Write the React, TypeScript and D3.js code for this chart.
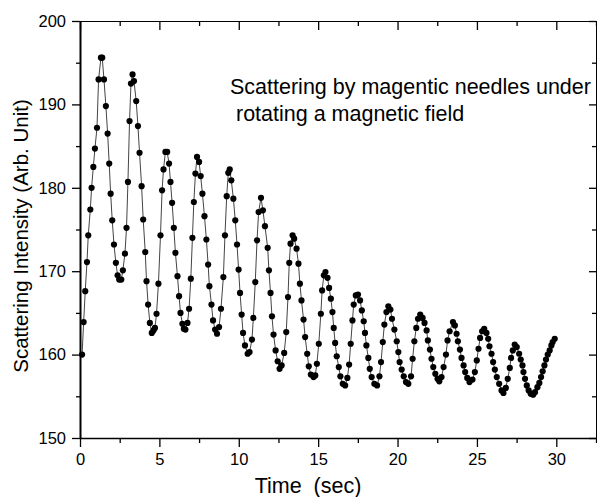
import React, { useEffect, useRef } from "react";
import * as d3 from "d3";

// time (sec) of each sample
const times = [
  0.13, 0.23, 0.33, 0.44, 0.52, 0.65, 0.73, 0.84, 0.94, 1.07, 1.17, 1.32, 1.4, 1.51, 1.63, 1.74, 1.84, 1.93,
  2.03, 2.14, 2.26, 2.37, 2.47, 2.6, 2.7, 2.83, 2.93, 3.02, 3.12, 3.21, 3.31, 3.4, 3.54, 3.65, 3.75, 3.88,
  3.98, 4.11, 4.19, 4.29, 4.4, 4.52, 4.63, 4.72, 4.82, 4.94, 5.07, 5.17, 5.26, 5.38, 5.49, 5.61, 5.7, 5.8,
  5.91, 6.01, 6.14, 6.24, 6.33, 6.45, 6.54, 6.64, 6.77, 6.87, 6.98, 7.08, 7.17, 7.27, 7.37, 7.5, 7.6, 7.71,
  7.84, 7.96, 8.07, 8.15, 8.28, 8.38, 8.51, 8.63, 8.76, 8.88, 9.03, 9.13, 9.24, 9.34, 9.43, 9.53, 9.66, 9.78,
  9.89, 9.99, 10.08, 10.18, 10.27, 10.39, 10.56, 10.68, 10.83, 10.92, 11.04, 11.15, 11.25, 11.4, 11.52, 11.65,
  11.82, 11.9, 12.0, 12.09, 12.19, 12.32, 12.45, 12.57, 12.7, 12.86, 12.99, 13.1, 13.18, 13.26, 13.39, 13.49,
  13.64, 13.76, 13.85, 13.95, 14.08, 14.18, 14.31, 14.41, 14.54, 14.71, 14.82, 14.92, 15.04, 15.17, 15.25,
  15.36, 15.46, 15.59, 15.69, 15.8, 15.9, 15.98, 16.07, 16.17, 16.3, 16.4, 16.55, 16.7, 16.84, 16.95, 17.05,
  17.16, 17.24, 17.37, 17.51, 17.64, 17.75, 17.87, 17.95, 18.04, 18.16, 18.25, 18.37, 18.54, 18.71, 18.86,
  18.96, 19.07, 19.17, 19.3, 19.42, 19.55, 19.65, 19.8, 19.95, 20.05, 20.13, 20.26, 20.39, 20.53, 20.68,
  20.85, 20.95, 21.06, 21.18, 21.29, 21.43, 21.58, 21.7, 21.83, 21.91, 22.04, 22.14, 22.25, 22.38, 22.52,
  22.63, 22.77, 22.9, 23.05, 23.15, 23.28, 23.49, 23.61, 23.72, 23.8, 23.93, 24.03, 24.16, 24.26, 24.39,
  24.53, 24.72, 24.87, 24.99, 25.1, 25.2, 25.33, 25.46, 25.6, 25.71, 25.79, 25.92, 26.02, 26.13, 26.25, 26.4,
  26.55, 26.67, 26.82, 26.94, 27.07, 27.15, 27.26, 27.38, 27.51, 27.66, 27.76, 27.87, 27.93, 28.03, 28.14,
  28.26, 28.39, 28.54, 28.66, 28.81, 28.93, 29.04, 29.14, 29.25, 29.35, 29.46, 29.58, 29.69, 29.77, 29.9,
];

// scattering intensity (arb. unit)
const intensity = [
  160.0, 163.9, 167.6, 171.1, 174.3, 177.4, 180.0, 182.5, 184.7, 187.2, 193.0, 195.6, 195.6, 193.0, 189.8, 186.5, 182.9, 179.3,
  176.1, 173.2, 171.0, 169.5, 169.0, 169.0, 170.1, 172.1, 175.2, 180.7, 188.0, 192.5, 193.6, 192.8, 190.4, 187.4, 184.2, 180.2,
  176.2, 172.3, 168.8, 166.0, 163.8, 162.6, 162.9, 163.2, 164.9, 168.5, 174.3, 179.7, 182.2, 184.3, 184.3, 182.9, 180.7, 178.2,
  175.2, 172.2, 169.4, 167.0, 165.0, 163.7, 163.1, 163.0, 163.8, 165.5, 169.1, 174.0, 178.3, 181.7, 183.7, 183.1, 181.4, 179.3,
  176.6, 173.8, 170.8, 168.2, 166.0, 164.1, 163.0, 162.5, 163.3, 165.5, 169.3, 174.3, 179.0, 181.8, 182.2, 180.9, 178.7, 176.1,
  173.2, 170.2, 167.4, 164.8, 162.6, 161.1, 160.1, 160.3, 161.8, 164.4, 168.7, 173.7, 177.1, 178.8, 177.3, 175.4,
  172.8, 170.1, 167.4, 164.6, 162.4, 160.5, 159.2, 158.3, 158.7, 160.2, 162.7, 166.9, 171.0, 173.3, 174.3, 173.9,
  172.7, 170.9, 168.5, 166.5, 164.2, 162.1, 160.1, 158.6, 157.6, 157.3, 157.5, 158.9, 161.3, 164.9, 167.7,
  169.5, 169.9, 169.2, 168.0, 166.7, 165.1, 163.2, 161.4, 159.8, 158.5, 157.4, 156.5, 156.3, 157.2, 158.8, 161.3,
  164.1, 166.0, 167.1, 167.2, 166.5, 165.3, 164.0, 162.6, 161.1, 159.6, 158.3, 157.3, 156.5, 156.3, 157.4,
  159.1, 161.5, 163.6, 165.1, 165.8, 165.4, 164.3, 163.0, 161.6, 160.3, 159.1, 158.2, 157.4, 156.7, 156.5,
  157.4, 159.5, 161.6, 163.2, 164.3, 164.8, 164.4, 163.8, 162.9, 161.7, 160.6, 159.5, 158.5, 157.7, 157.1,
  156.8, 157.3, 158.5, 160.0, 161.7, 162.8, 163.9, 163.5, 162.5, 161.6, 160.6, 159.6, 158.7, 157.9, 157.2,
  156.7, 157.0, 157.9, 159.3, 160.7, 162.0, 162.8, 163.1, 162.6, 161.9, 161.0, 160.1, 159.1, 158.2, 157.3, 156.5,
  155.7, 155.4, 156.0, 157.1, 158.4, 159.6, 160.5, 161.2, 160.9, 160.1, 159.4, 158.7, 157.9, 157.1, 156.3,
  155.7, 155.3, 155.2, 155.5, 156.1, 156.6, 157.3, 158.0, 158.7, 159.4, 160.0, 160.5, 161.1, 161.5, 161.9,
];

const xMajor = [0, 5, 10, 15, 20, 25, 30];
const xMinor = [2.5, 7.5, 12.5, 17.5, 22.5, 27.5, 32.5];
const yMajor = [150, 160, 170, 180, 190, 200];
const yMinor = [155, 165, 175, 185, 195];

const noteLines = ["Scattering by magentic needles under", " rotating a magnetic field"];

const FONT = "Arial, 'Liberation Sans', sans-serif";

const App = () => {
  const svgRef = useRef(null);

  useEffect(() => {
    const W = 597;
    const H = 497;
    const left = 80, right = 596, top = 21, bottom = 438;

    const svg = d3.select(svgRef.current).attr("width", W).attr("height", H);
    svg.selectAll("*").remove();

    svg.append("rect").attr("width", W).attr("height", H).attr("fill", "white");

    const x = d3.scaleLinear().domain([0, 32.5]).range([left, right]);
    const y = d3.scaleLinear().domain([150, 200]).range([bottom, top]);

    const data = times.map((t, i) => ({ t, v: intensity[i] }));

    // frame: top and right (inward ticks)
    const topAxis = svg.append("g").attr("transform", `translate(0,${top})`);
    topAxis.call(d3.axisBottom(x).tickValues(xMajor).tickSize(9).tickFormat(() => "").tickSizeOuter(0));
    topAxis.append("g").call(d3.axisBottom(x).tickValues(xMinor).tickSize(5).tickFormat(() => "").tickSizeOuter(0));

    const rightAxis = svg.append("g").attr("transform", `translate(${right},0)`);
    rightAxis.call(d3.axisLeft(y).tickValues(yMajor).tickSize(7).tickFormat(() => "").tickSizeOuter(0));
    rightAxis.append("g").call(d3.axisLeft(y).tickValues(yMinor).tickSize(4).tickFormat(() => "").tickSizeOuter(0));

    // bottom axis
    const bottomAxis = svg.append("g").attr("transform", `translate(0,${bottom})`);
    bottomAxis.call(d3.axisBottom(x).tickValues(xMajor).tickSize(9).tickPadding(6).tickSizeOuter(0));
    bottomAxis.append("g").call(d3.axisBottom(x).tickValues(xMinor).tickSize(5).tickFormat(() => "").tickSizeOuter(0));
    bottomAxis.select(".domain").attr("stroke-width", 1.6);

    // left axis
    const leftAxis = svg.append("g").attr("transform", `translate(${left},0)`);
    leftAxis.call(d3.axisLeft(y).tickValues(yMajor).tickSize(8).tickPadding(6).tickSizeOuter(0));
    leftAxis.append("g").call(d3.axisLeft(y).tickValues(yMinor).tickSize(4).tickFormat(() => "").tickSizeOuter(0));
    leftAxis.select(".domain").attr("stroke-width", 2);

    svg.selectAll(".tick line").attr("stroke", "black").attr("stroke-width", 1.3);
    svg.selectAll(".domain").attr("stroke", "black");
    svg.selectAll(".tick text")
      .attr("fill", "black")
      .attr("font-family", FONT)
      .attr("font-size", "16.5px");

    // data
    const line = d3.line().x(d => x(d.t)).y(d => y(d.v));

    svg.append("path")
      .datum(data)
      .attr("fill", "none")
      .attr("stroke", "#444")
      .attr("stroke-width", 1)
      .attr("d", line);

    svg.selectAll(".dot")
      .data(data)
      .enter().append("circle")
      .attr("class", "dot")
      .attr("cx", d => x(d.t))
      .attr("cy", d => y(d.v))
      .attr("r", 3.1)
      .attr("fill", "black");

    // titles
    svg.append("text")
      .attr("x", 308)
      .attr("y", 493)
      .attr("text-anchor", "middle")
      .attr("font-family", FONT)
      .attr("font-size", "21.5px")
      .style("white-space", "pre")
      .text("Time  (sec)");

    svg.append("text")
      .attr("transform", "translate(28,236) rotate(-90)")
      .attr("text-anchor", "middle")
      .attr("font-family", FONT)
      .attr("font-size", "20.5px")
      .text("Scattering Intensity (Arb. Unit)");

    // note
    noteLines.forEach((s, i) => {
      svg.append("text")
        .attr("x", 230)
        .attr("y", 94 + i * 27)
        .attr("font-family", FONT)
        .attr("font-size", "21.5px")
        .style("white-space", "pre")
        .text(s);
    });
  }, []);

  return (
    <div style={{ position: "absolute", left: 0, top: 0, width: 597, height: 497 }}>
      <svg ref={svgRef} style={{ display: "block" }}></svg>
    </div>
  );
};

export default App;
